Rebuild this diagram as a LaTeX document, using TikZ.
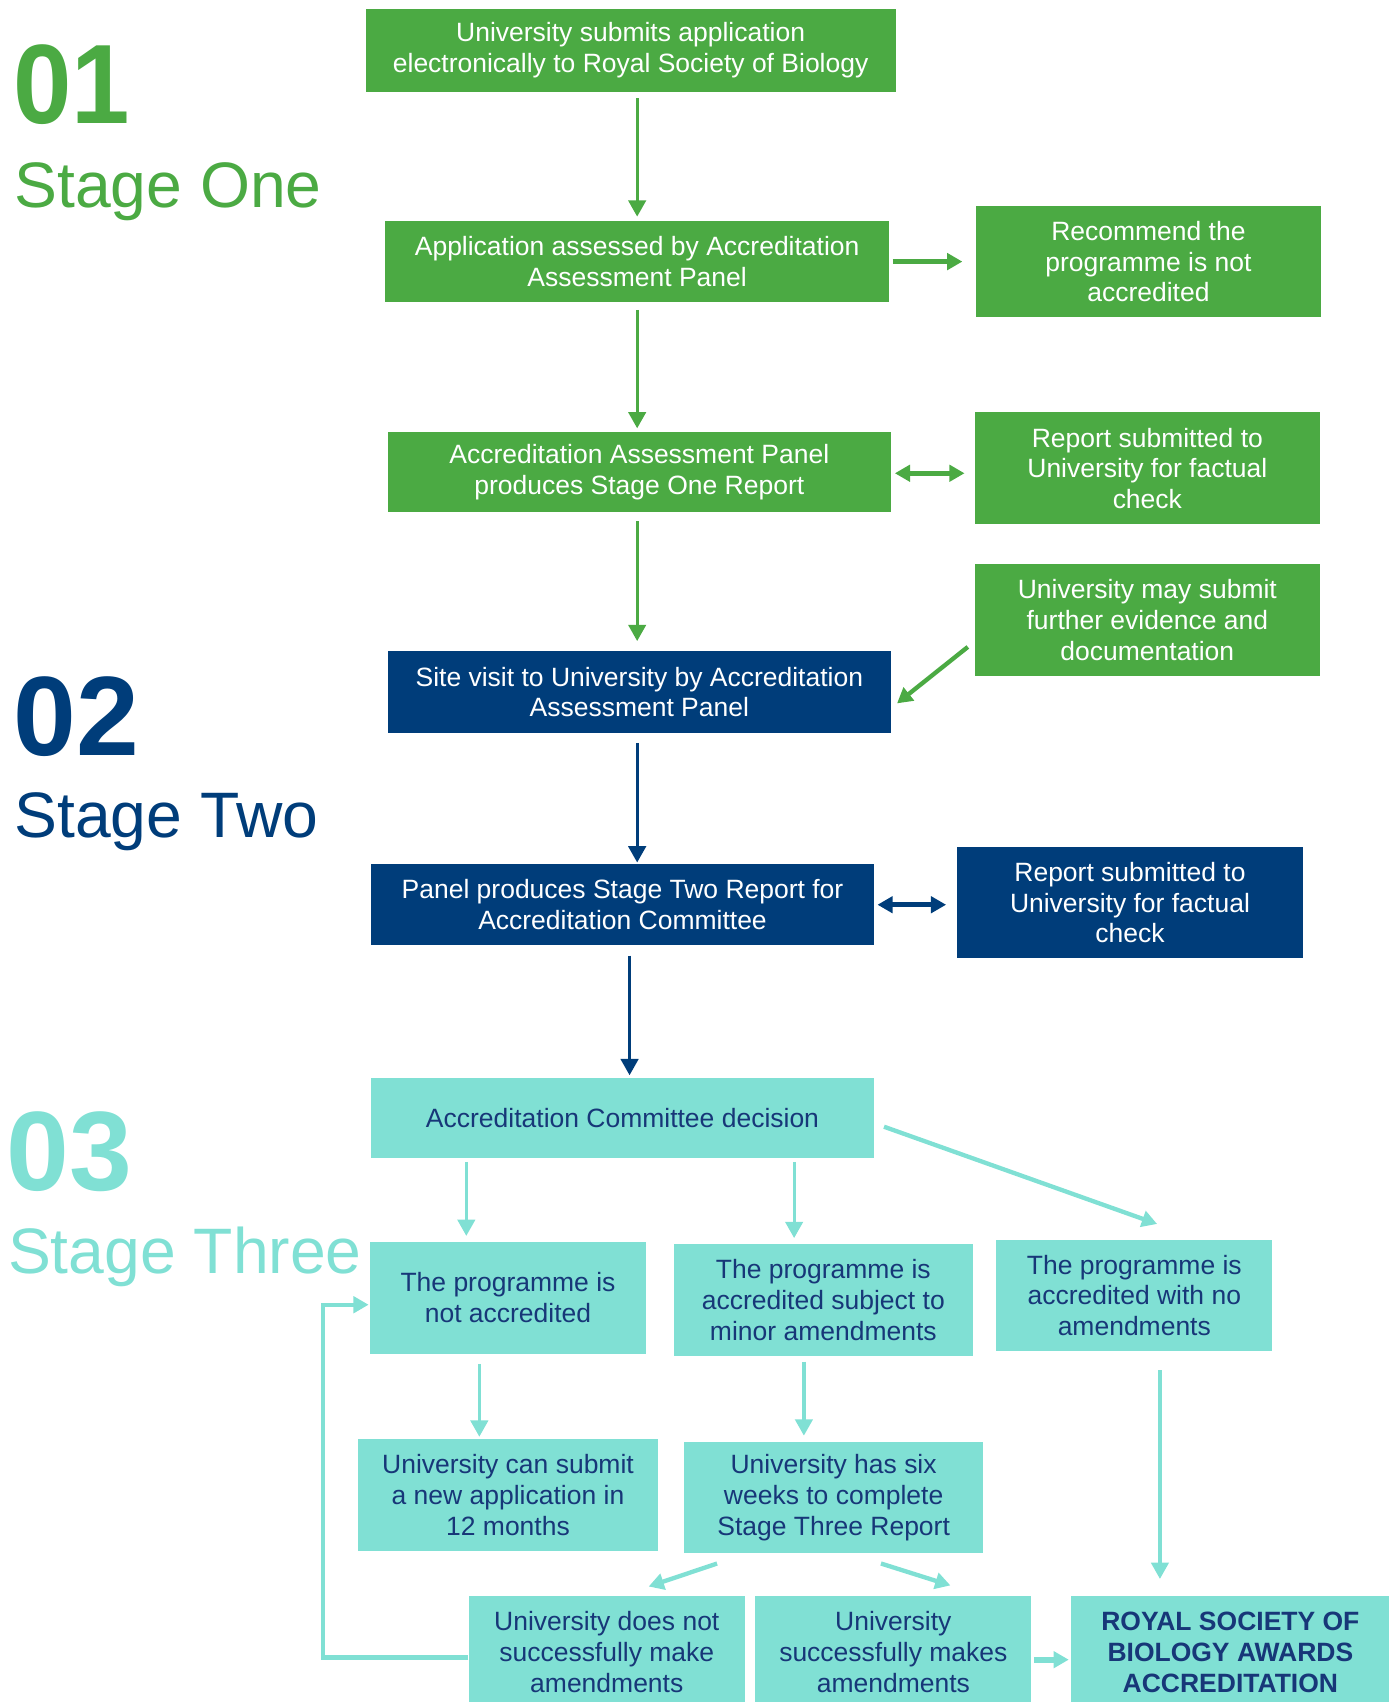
\documentclass[tikz,border=0pt]{standalone}
\usepackage{fontspec}
\setmainfont{Liberation Sans}
\usetikzlibrary{arrows.meta,calc}
\definecolor{rsbgreen}{RGB}{75,170,67}
\definecolor{rsbnavy}{RGB}{0,61,122}
\definecolor{rsbteal}{RGB}{128,224,212}
\definecolor{rsbtext}{RGB}{23,55,120}
\begin{document}
\begin{tikzpicture}[x=0.5pt,y=-0.5pt,
  box/.style={rectangle,inner sep=0pt,align=center,font=\fontsize{12.2}{14.2}\selectfont},
  gbox/.style={box,fill=rsbgreen,text=white},
  nbox/.style={box,fill=rsbnavy,text=white},
  tbox/.style={box,fill=rsbteal,text=rsbtext},
  varr/.style={line width=1.5pt,-{Triangle[length=7.5pt,width=8pt]}},
  harr/.style={line width=2.2pt,-{Triangle[length=7pt,width=7.5pt]}},
  dblarr/.style={line width=2.2pt,{Triangle[length=7pt,width=7.5pt]}-{Triangle[length=7pt,width=7.5pt]}},
  diarr/.style={line width=2pt,-{Triangle[length=7pt,width=7.5pt]}},
  bignum/.style={anchor=base west,inner sep=0pt,font=\fontsize{52}{56}\selectfont\bfseries},
  stagelbl/.style={anchor=base west,inner sep=0pt,font=\fontsize{29.6}{32}\selectfont}
]
\path[use as bounding box] (0,0) rectangle (1284,1568);
\clip (0,0) rectangle (1284,1568);

% stage labels
\node[bignum,text=rsbgreen] (n1) at (12,114) {\scalebox{0.93}[1]{01}};
\node[stagelbl,text=rsbgreen] (s1) at (13,191) {Stage One};
\node[bignum,text=rsbnavy] (n2) at (12,696) {02};
\node[stagelbl,text=rsbnavy] (s2) at (13,772) {Stage Two};
\node[bignum,text=rsbteal] (n3) at (6,1097) {03};
\node[stagelbl,text=rsbteal] (s3) at (7,1173) {Stage Three};

% stage one
\node[gbox,minimum width=244pt,minimum height=38.5pt] (b1) at (581,46.5) {University submits application\\electronically to Royal Society of Biology};
\node[gbox,minimum width=232pt,minimum height=37pt] (b2) at (587,241) {Application assessed by Accreditation\\Assessment Panel};
\node[gbox,minimum width=159pt,minimum height=51pt] (b2r) at (1058,241) {Recommend the\\programme is not\\accredited};
\node[gbox,minimum width=232pt,minimum height=37pt] (b3) at (589,435) {Accreditation Assessment Panel\\produces Stage One Report};
\node[gbox,minimum width=159pt,minimum height=51.5pt] (b3r) at (1057,431.5) {Report submitted to\\University for factual\\check};
\node[gbox,minimum width=159pt,minimum height=51.5pt] (b4r) at (1057,571.5) {University may submit\\further evidence and\\documentation};

% stage two
\node[nbox,minimum width=232pt,minimum height=37.5pt] (b4) at (589,637.5) {Site visit to University by Accreditation\\Assessment Panel};
\node[nbox,minimum width=231.5pt,minimum height=37.5pt] (b5) at (573.5,833.5) {Panel produces Stage Two Report for\\Accreditation Committee};
\node[nbox,minimum width=159pt,minimum height=51.5pt] (b5r) at (1041,831.5) {Report submitted to\\University for factual\\check};

% stage three
\node[tbox,minimum width=231.5pt,minimum height=37pt] (c0) at (573.5,1030) {Accreditation Committee decision};
\node[tbox,minimum width=127pt,minimum height=51.5pt] (c1) at (468,1195.5) {The programme is\\not accredited};
\node[tbox,minimum width=137.5pt,minimum height=51.5pt] (c2) at (758.5,1197.5) {The programme is\\accredited subject to\\minor amendments};
\node[tbox,minimum width=127pt,minimum height=51.5pt] (c3) at (1045,1193.5) {The programme is\\accredited with no\\amendments};
\node[tbox,minimum width=138pt,minimum height=51.5pt] (c4) at (468,1377.5) {University can submit\\a new application in\\12 months};
\node[tbox,minimum width=138pt,minimum height=51.5pt] (c5) at (768,1379.5) {University has six\\weeks to complete\\Stage Three Report};
\node[tbox,minimum width=127pt,minimum height=52pt] (c6) at (559,1522) {University does not\\successfully make\\amendments};
\node[tbox,minimum width=127pt,minimum height=52pt] (c7) at (823,1522) {University\\successfully makes\\amendments};
\node[tbox,minimum width=146.5pt,minimum height=52pt,font=\fontsize{12.2}{14.2}\selectfont\bfseries] (c8) at (1133.5,1522) {ROYAL SOCIETY OF\\BIOLOGY AWARDS\\ACCREDITATION};

% green connectors
\draw[varr,rsbgreen,shorten <=2.5pt,shorten >=2pt] (b1.south -| b2.north) -- (b2.north);
\draw[varr,rsbgreen,shorten <=3.5pt,shorten >=1.5pt] (b2.south) -- (b2.south |- b3.north);
\draw[varr,rsbgreen,shorten <=4pt,shorten >=4.5pt] (b3.south -| b2.south) -- (b4.north -| b2.south);
\draw[harr,rsbgreen,shorten <=1.5pt,shorten >=6pt] (b2.east) -- (b2r.west);
\draw[dblarr,rsbgreen,shorten <=1.5pt,shorten >=4.5pt] ([yshift=-0.5pt]b3.east) -- ([yshift=-0.5pt]b3.east -| b3r.west);
\draw[diarr,rsbgreen] ([xshift=-3pt,yshift=-12.25pt]b4r.west) -- ([xshift=2.5pt,yshift=-5.25pt]b4.east);

% navy connectors
\draw[varr,rsbnavy,shorten <=4.5pt,shorten >=0.5pt] (b4.south -| b2.south) -- (b5.north -| b2.south);
\draw[dblarr,rsbnavy,shorten <=1.5pt,shorten >=5pt] (b5.east) -- (b5.east -| b5r.west);
\draw[varr,rsbnavy,shorten <=4.5pt,shorten >=1pt] ([xshift=3.25pt]b5.south) -- ([xshift=3.25pt]b5.south |- c0.north);

% teal connectors
\draw[varr,rsbteal,shorten <=1.5pt,shorten >=2.5pt] ([xshift=44pt]c0.south west) -- ([xshift=44pt]c0.south west |- c1.north);
\draw[varr,rsbteal,shorten <=1.5pt,shorten >=2.5pt] ([xshift=195pt]c0.south west) -- ([xshift=195pt]c0.south west |- c2.north);
\draw[diarr,rsbteal] ([xshift=4.5pt,yshift=-4pt]c0.east) -- ([xshift=10.5pt,yshift=7pt]c3.north);
\draw[varr,rsbteal,shorten <=4.5pt,shorten >=1pt] ([xshift=50.5pt]c1.south west) -- ([xshift=50.5pt]c1.south west |- c4.north);
\draw[varr,rsbteal,shorten <=2.5pt,shorten >=2.5pt] ([xshift=60pt]c2.south west) -- ([xshift=60pt]c2.south west |- c5.north);
\draw[varr,rsbteal,shorten <=8.5pt,shorten >=7.5pt] ([xshift=75.5pt]c3.south west) -- ([xshift=75.5pt]c3.south west |- c8.north);
\draw[diarr,rsbteal] ([xshift=15.5pt,yshift=-4.5pt]c5.south west) -- ([xshift=83pt,yshift=4pt]c6.north west);
\draw[diarr,rsbteal] ([xshift=91pt,yshift=-4.5pt]c5.south west) -- ([xshift=90pt,yshift=4.5pt]c7.north west);
\draw[harr,rsbteal,line width=2.6pt,shorten <=1pt,shorten >=1pt] ([yshift=-3.5pt]c7.east) -- ([yshift=-3.5pt]c7.east -| c8.west);
\draw[diarr,rsbteal,shorten >=0.5pt] ([yshift=-2.5pt]c6.west) -- ++(-67pt,0) |- ([yshift=-3.25pt]c1.west);
\end{tikzpicture}
\end{document}
